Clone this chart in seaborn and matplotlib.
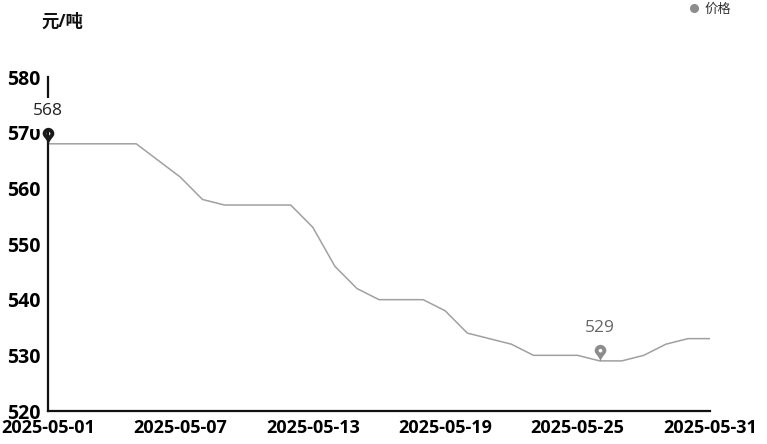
import pandas as pd
import seaborn as sns
import matplotlib.pyplot as plt
from matplotlib.lines import Line2D
from matplotlib.patches import Rectangle
from matplotlib.path import Path

dates = ["2025-05-01", "2025-05-02", "2025-05-03", "2025-05-04", "2025-05-05", "2025-05-06",
         "2025-05-07", "2025-05-08", "2025-05-09", "2025-05-10", "2025-05-11", "2025-05-12",
         "2025-05-13", "2025-05-14", "2025-05-15", "2025-05-16", "2025-05-17", "2025-05-18",
         "2025-05-19", "2025-05-20", "2025-05-21", "2025-05-22", "2025-05-23", "2025-05-24",
         "2025-05-25", "2025-05-26", "2025-05-27", "2025-05-28", "2025-05-29", "2025-05-30",
         "2025-05-31"]
prices = [568, 568, 568, 568, 568, 565, 562, 558, 557, 557, 557, 557, 553, 546, 542, 540,
          540, 540, 538, 534, 533, 532, 530, 530, 530, 529, 529, 530, 532, 533, 533]
x_ticks = ["2025-05-01", "2025-05-07", "2025-05-13", "2025-05-19", "2025-05-25", "2025-05-31"]
y_ticks = [520, 530, 540, 550, 560, 570, 580]
unit = "元/吨"
series_name = "价格"

sns.set_theme(style="white")
plt.rcParams['font.family'] = ['Open Sans', 'Noto Sans CJK SC', 'DejaVu Sans']

df = pd.DataFrame({"date": pd.to_datetime(dates), "price": prices})

W, H = 767, 444
fig = plt.figure(figsize=(W / 100, H / 100), dpi=100)
ax = fig.add_axes([48 / W, 1 - 411 / H, 662 / W, 334 / H])

sns.lineplot(data=df, x="date", y="price", color="#a0a0a0", linewidth=1.1, ax=ax)

ax.set_xlim(df["date"].iloc[0], df["date"].iloc[-1])
ax.set_ylim(520, 580)
ax.set_xticks(pd.to_datetime(x_ticks))
ax.set_xticklabels(x_ticks)
ax.set_yticks(y_ticks)
ax.set_xlabel("")
ax.set_ylabel("")
ax.tick_params(axis="x", length=0, pad=5.5, labelsize=13, colors="#000000")
ax.tick_params(axis="y", length=0, pad=5.5, labelsize=14, colors="#000000")
for lab in ax.get_xticklabels() + ax.get_yticklabels():
    lab.set_fontweight("bold")

sns.despine(ax=ax)
for side in ["left", "bottom"]:
    ax.spines[side].set_color("#111111")
    ax.spines[side].set_linewidth(1.6)

# map pin, tip at the origin, hole runs the other way round so it stays empty
k = 0.5523
r = 0.35
c = 0.65
hr = 0.11
pin = Path(
    [(0, 0), (r * 0.35, c - r * 0.75), (r, c - r * 0.6), (r, c),
     (r, c + k * r), (k * r, c + r), (0, c + r),
     (-k * r, c + r), (-r, c + k * r), (-r, c),
     (-r, c - r * 0.6), (-r * 0.35, c - r * 0.75), (0, 0),
     (0, c + hr), (k * hr, c + hr), (hr, c + k * hr), (hr, c),
     (hr, c - k * hr), (k * hr, c - hr), (0, c - hr),
     (-k * hr, c - hr), (-hr, c - k * hr), (-hr, c),
     (-hr, c + k * hr), (-k * hr, c + hr), (0, c + hr), (0, c + hr)],
    [Path.MOVETO] + [Path.CURVE4] * 12 + [Path.MOVETO] + [Path.CURVE4] * 12 + [Path.CLOSEPOLY])

imax = df["price"].idxmax()
imin = df["price"].idxmin()

# white box behind the max label, it hides part of the axis and of the 570 tick
ax.add_patch(Rectangle((30 / W, 1 - 129 / H), 32 / W, 31 / H, transform=fig.transFigure,
                       facecolor="white", edgecolor="none", zorder=4, clip_on=False))

ax.annotate(str(df["price"][imax]), (df["date"][imax], df["price"][imax]),
            xytext=(0, 23.5), textcoords="offset points", ha="center", va="center",
            fontsize=12.5, color="#222222", zorder=5, annotation_clip=False)
ax.annotate(str(df["price"][imin]), (df["date"][imin], df["price"][imin]),
            xytext=(0, 23.5), textcoords="offset points", ha="center", va="center",
            fontsize=12.5, color="#666666", zorder=5)
ax.plot(df["date"][imax], df["price"][imax], marker=pin, markersize=24, color="#1a1a1a",
        markeredgewidth=0, clip_on=False, zorder=6)
ax.plot(df["date"][imin], df["price"][imin], marker=pin, markersize=24, color="#8c8c8c",
        markeredgewidth=0, clip_on=False, zorder=6)

fig.text(41 / W, 1 - 21.5 / H, unit, fontsize=12.5, fontweight="bold", color="#111111",
         ha="left", va="center")

handle = Line2D([], [], linestyle="none", marker="o", markersize=5.5, color="#8c8c8c")
fig.legend([handle], [series_name], loc="center right", bbox_to_anchor=(731 / W, 1 - 9 / H),
           frameon=False, fontsize=9.6, handlelength=1.0, handletextpad=0.25, labelcolor="#333333",
           borderpad=0, borderaxespad=0)

fig.savefig("out.png", dpi=100)
